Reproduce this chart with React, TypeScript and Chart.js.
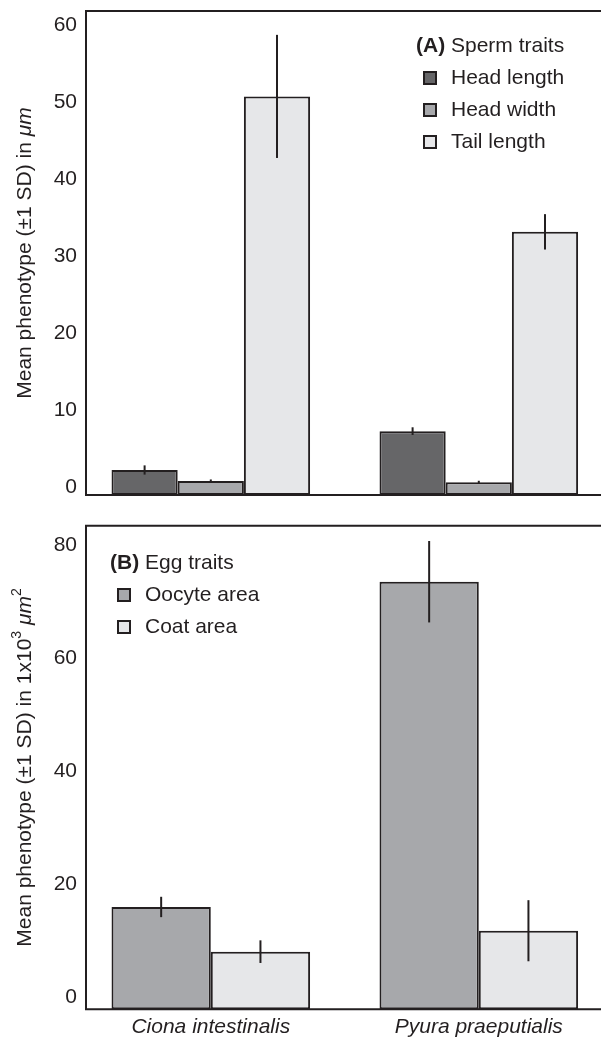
import React, { useEffect, useRef } from "react";
import { Chart, registerables } from "chart.js";

Chart.register(...registerables);

// ---------- data ----------
const categories = ["Ciona intestinalis", "Pyura praeputialis"];

const spermSeries = ["Head length", "Head width", "Tail length"];
const headLength = [2.25, 7.3];
const headLengthSD = [0.6, 0.5];
const headWidth = [0.82, 0.65];
const headWidthSD = [0.2, 0.2];
const tailLength = [50.8, 33.2];
const tailLengthSD = [8.0, 2.3];

const eggSeries = ["Oocyte area", "Coat area"];
const oocyteArea = [16.0, 73.5];
const oocyteAreaSD = [1.8, 7.2];
const coatArea = [8.1, 11.8];
const coatAreaSD = [2.0, 5.4];

const spermTicks = [0, 10, 20, 30, 40, 50, 60];
const eggTicks = [0, 20, 40, 60, 80];

// ---------- style ----------
const FONT = '"Liberation Sans", Arial, Helvetica, sans-serif';
const INK = "#231f20";
const DARK = "#666668";
const MID = "#a7a8ab";
const LIGHT = "#e6e7e9";

const panelDecor = {
  id: "panelDecor",
  afterDatasetsDraw(chart: any, _args: any, opts: any) {
    const ctx = chart.ctx as CanvasRenderingContext2D;
    const { left, right, top, bottom } = chart.chartArea;
    const yScale = chart.scales.y;
    ctx.save();
    ctx.strokeStyle = INK;
    ctx.lineWidth = 2;

    // error bars
    chart.data.datasets.forEach((ds: any, i: number) => {
      const meta = chart.getDatasetMeta(i);
      meta.data.forEach((el: any, j: number) => {
        const v = ds.data[j].y;
        const e = ds.errors[j];
        ctx.beginPath();
        ctx.moveTo(el.x, yScale.getPixelForValue(v + e));
        ctx.lineTo(el.x, yScale.getPixelForValue(v - e));
        ctx.stroke();
      });
    });

    // frame: top, left, bottom
    ctx.beginPath();
    ctx.moveTo(right + 2, top);
    ctx.lineTo(left, top);
    ctx.lineTo(left, bottom);
    ctx.lineTo(right + 2, bottom);
    ctx.stroke();

    // legend
    const lg = opts.legend;
    if (lg) {
      ctx.fillStyle = INK;
      ctx.textBaseline = "middle";
      ctx.textAlign = "left";
      ctx.font = `bold 21px ${FONT}`;
      ctx.fillText(lg.tag, lg.x, lg.y);
      const w = ctx.measureText(lg.tag).width;
      ctx.font = `21px ${FONT}`;
      ctx.fillText(" " + lg.title, lg.x + w, lg.y);
      chart.data.datasets.forEach((ds: any, i: number) => {
        const ry = lg.y + lg.gap * (i + 1);
        ctx.fillStyle = ds.backgroundColor;
        ctx.fillRect(lg.x + 8, ry - 6, 12, 12);
        ctx.lineWidth = 2;
        ctx.strokeStyle = INK;
        ctx.strokeRect(lg.x + 8, ry - 6, 12, 12);
        ctx.fillStyle = INK;
        ctx.fillText(ds.label, lg.x + 35, ry);
      });
    }

    // y title with mixed styles
    const segs = opts.yTitle as { text: string; italic?: boolean; sup?: boolean }[];
    if (segs) {
      ctx.translate(25, (top + bottom) / 2);
      ctx.rotate(-Math.PI / 2);
      ctx.fillStyle = INK;
      ctx.textBaseline = "middle";
      ctx.textAlign = "left";
      const fontOf = (s: any) =>
        `${s.italic ? "italic " : ""}${s.sup ? 14 : 21}px ${FONT}`;
      let total = 0;
      segs.forEach((s) => {
        ctx.font = fontOf(s);
        total += ctx.measureText(s.text).width;
      });
      let x = -total / 2;
      segs.forEach((s) => {
        ctx.font = fontOf(s);
        ctx.fillText(s.text, x, s.sup ? -8 : 0);
        x += ctx.measureText(s.text).width;
      });
    }
    ctx.restore();
  },
};

function makeDataset(label: string, values: number[], sd: number[], color: string, base: number) {
  return {
    label,
    data: values.map((v, i) => ({ x: i, y: v })),
    errors: sd,
    backgroundColor: color,
    borderColor: INK,
    borderWidth: 2,
    borderSkipped: false,
    base,
    categoryPercentage: 0.741,
    barPercentage: 1,
  };
}

const zeroPad = (s: any) => {
  s.paddingTop = 0;
  s.paddingBottom = 0;
  s.paddingLeft = 0;
  s.paddingRight = 0;
};

function makeOptions(p: {
  yMin: number;
  yMax: number;
  yTicks: number[];
  showX: boolean;
  padTop: number;
  xHeight: number;
  legend: any;
  yTitle: any;
}) {
  return {
    responsive: false,
    animation: false,
    layout: { padding: { top: p.padTop, left: 0, right: 0, bottom: 0 } },
    plugins: {
      legend: { display: false },
      tooltip: { enabled: false },
      panelDecor: { legend: p.legend, yTitle: p.yTitle },
    },
    scales: {
      x: {
        type: "linear",
        offset: false,
        min: -0.4657,
        max: 1.456,
        grid: { display: false, drawTicks: false, offset: false },
        border: { display: false },
        afterBuildTicks: (s: any) => {
          s.ticks = categories.map((_, i) => ({ value: i }));
        },
        afterFit: (s: any) => {
          s.height = p.xHeight;
          zeroPad(s);
        },
        ticks: {
          display: p.showX,
          padding: 5,
          autoSkip: false,
          maxRotation: 0,
          color: INK,
          font: { family: FONT, size: 21, style: "italic" },
          callback: (v: any) => categories[v] ?? "",
        },
      },
      y: {
        min: p.yMin,
        max: p.yMax,
        grid: { display: false, drawTicks: false },
        border: { display: false },
        afterBuildTicks: (s: any) => {
          s.ticks = p.yTicks.map((v) => ({ value: v }));
        },
        afterFit: (s: any) => {
          s.width = 86;
          zeroPad(s);
        },
        ticks: { padding: 9, color: INK, font: { family: FONT, size: 21 } },
      },
    },
  };
}

export default function App() {
  const topRef = useRef<HTMLCanvasElement>(null);
  const botRef = useRef<HTMLCanvasElement>(null);

  useEffect(() => {
    const topMin = -1.0;
    const botMin = -2.09;
    const top = new Chart(topRef.current!, {
      type: "bar",
      data: {
        datasets: [
          makeDataset(spermSeries[0], headLength, headLengthSD, DARK, topMin),
          makeDataset(spermSeries[1], headWidth, headWidthSD, MID, topMin),
          makeDataset(spermSeries[2], tailLength, tailLengthSD, LIGHT, topMin),
        ] as any,
      },
      options: makeOptions({
        yMin: topMin,
        yMax: 61.9,
        yTicks: spermTicks,
        showX: false,
        padTop: 11,
        xHeight: 15,
        legend: { tag: "(A)", title: "Sperm traits", x: 416, y: 46, gap: 32 },
        yTitle: [
          { text: "Mean phenotype (\u00b11 SD) in " },
          { text: "\u03bcm", italic: true },
        ],
      }) as any,
      plugins: [panelDecor],
    });
    const bot = new Chart(botRef.current!, {
      type: "bar",
      data: {
        datasets: [
          makeDataset(eggSeries[0], oocyteArea, oocyteAreaSD, MID, botMin),
          makeDataset(eggSeries[1], coatArea, coatAreaSD, LIGHT, botMin),
        ] as any,
      },
      options: makeOptions({
        yMin: botMin,
        yMax: 83.4,
        yTicks: eggTicks,
        showX: true,
        padTop: 15.7,
        xHeight: 33.7,
        legend: { tag: "(B)", title: "Egg traits", x: 110, y: 53, gap: 32 },
        yTitle: [
          { text: "Mean phenotype (\u00b11 SD) in 1x10" },
          { text: "3", sup: true },
          { text: " " },
          { text: "\u03bcm", italic: true },
          { text: "2", sup: true },
        ],
      }) as any,
      plugins: [panelDecor],
    });
    return () => {
      top.destroy();
      bot.destroy();
    };
  }, []);

  return (
    <div style={{ position: "absolute", left: 0, top: 0, width: 601, height: 1043, background: "#fff" }}>
      <canvas ref={topRef} width={601} height={510} style={{ position: "absolute", left: 0, top: 0 }} />
      <canvas ref={botRef} width={601} height={533} style={{ position: "absolute", left: 0, top: 510 }} />
    </div>
  );
}
